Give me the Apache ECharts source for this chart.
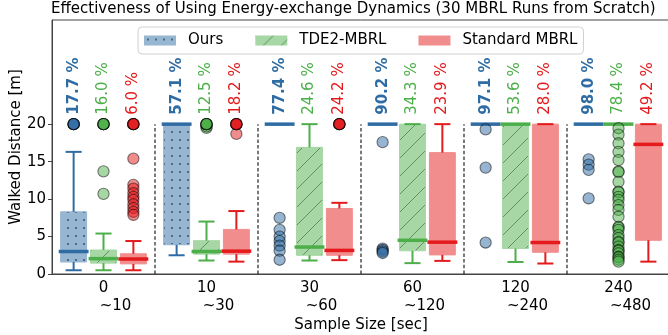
<!DOCTYPE html>
<html><head><meta charset="utf-8">
<script src="https://cdn.jsdelivr.net/npm/echarts@6/dist/echarts.min.js"></script>
<style>html,body{margin:0;padding:0;background:#fff}#c{width:668px;height:335px}</style>
</head><body><div id="c"></div>
<script>
// ---------- data ----------
const groups = ['0', '10', '30', '60', '120', '240'];
const ranges = ['~10', '~30', '~60', '~120', '~240', '~480'];
const seriesNames = ['Ours', 'TDE2-MBRL', 'Standard MBRL'];

// box stats per group: [lowWhisker, Q1, median, Q3, highWhisker]
const oursStats = [
  [0.5, 1.6, 3.0, 8.3, 16.3],
  [2.5, 3.9, 20, 20, 20],
  [20, 20, 20, 20, 20],
  [20, 20, 20, 20, 20],
  [20, 20, 20, 20, 20],
  [20, 20, 20, 20, 20]
];
const tde2Stats = [
  [0.5, 1.45, 2.05, 3.2, 5.4],
  [1.8, 2.65, 3.0, 4.45, 7.0],
  [1.8, 2.5, 3.6, 16.9, 20],
  [1.45, 3.1, 4.5, 20, 20],
  [1.6, 3.4, 20, 20, 20],
  [20, 20, 20, 20, 20]
];
const stdStats = [
  [0.5, 1.35, 2.0, 2.7, 4.4],
  [1.65, 2.65, 3.05, 5.95, 8.4],
  [1.85, 2.5, 3.15, 8.75, 9.5],
  [1.75, 2.55, 4.25, 16.2, 20],
  [1.4, 2.9, 4.2, 20, 20],
  [1.65, 4.5, 17.3, 20, 20]
];

// success rates [%]
const oursPct = [17.7, 57.1, 77.4, 90.2, 97.1, 98.0];
const tde2Pct = [16.0, 12.5, 24.6, 34.3, 53.6, 78.4];
const stdPct  = [6.0, 18.2, 24.2, 23.9, 28.0, 49.2];

// outliers: [groupIndex, value]
const oursOut = [
  [0, 20], [0, 20], [0, 20], [0, 20], [0, 20],
  [2, 7.5], [2, 5.9], [2, 5.0], [2, 4.4], [2, 3.8], [2, 3.1], [2, 1.9],
  [3, 17.6], [3, 3.4], [3, 3.2], [3, 3.0], [3, 2.8],
  [4, 19.3], [4, 14.2], [4, 4.2],
  [5, 15.3], [5, 14.6], [5, 13.9], [5, 10.1]
];
const tde2Out = [
  [0, 13.7], [0, 10.7], [0, 20], [0, 20], [0, 20], [0, 20], [0, 20],
  [1, 19.5], [1, 19.7], [1, 20], [1, 20], [1, 20], [1, 20], [1, 20],
  [5, 19.45], [5, 18.6], [5, 17.45], [5, 16.3], [5, 15.2], [5, 13.7], [5, 13.6],
  [5, 12.3], [5, 11.0], [5, 10.9], [5, 10.3], [5, 9.9], [5, 9.2], [5, 8.55],
  [5, 7.65], [5, 6.3], [5, 6.2], [5, 5.9], [5, 5.2], [5, 4.8], [5, 4.3],
  [5, 4.2], [5, 3.65], [5, 3.2], [5, 3.1], [5, 2.75], [5, 2.3], [5, 2.2],
  [5, 1.9], [5, 1.65]
];
const stdOut = [
  [0, 15.4], [0, 11.9], [0, 11.4], [0, 10.8], [0, 10.3], [0, 9.9], [0, 9.3],
  [0, 8.8], [0, 8.3], [0, 7.9],
  [0, 20], [0, 20], [0, 20], [0, 20], [0, 20],
  [1, 18.7], [1, 20], [1, 20], [1, 20], [1, 20], [1, 20],
  [2, 20], [2, 20], [2, 20], [2, 20], [2, 20]
];
const separators = [0, 1, 2, 3, 4];

// ---------- styling ----------
const FONT = '"DejaVu Sans", sans-serif';
const COL = ['#2f6ca3', '#4daf4a', '#e41a1c'];
const FACE = ['#97b6d1', '#a6d7a5', '#f28d8e'];
const OFFSETS = [-0.29, 0, 0.29];

function rgba(hex, a) {
  const n = parseInt(hex.slice(1), 16);
  return `rgba(${(n >> 16) & 255},${(n >> 8) & 255},${n & 255},${a})`;
}
function makePattern(kind, face) {
  const c = document.createElement('canvas');
  const s = kind === 'dots' ? 8 : 18;
  c.width = s; c.height = s;
  const g = c.getContext('2d');
  g.fillStyle = face; g.fillRect(0, 0, s, s);
  if (kind === 'dots') {
    g.fillStyle = '#2d4a66';
    g.beginPath(); g.arc(4, 4, 0.95, 0, Math.PI * 2); g.fill();
  } else if (kind === 'lines') {
    g.strokeStyle = 'rgba(60,90,60,0.75)'; g.lineWidth = 0.8;
    g.beginPath();
    g.moveTo(-1, s + 1); g.lineTo(s + 1, -1);
    g.moveTo(-1, 1); g.lineTo(1, -1);
    g.moveTo(s - 1, s + 1); g.lineTo(s + 1, s - 1);
    g.stroke();
  }
  return { image: c, repeat: 'repeat' };
}
const PAT = [makePattern('dots', FACE[0]), makePattern('lines', FACE[1]), FACE[2]];

function boxRender(k) {
  return function (params, api) {
    const idx = api.value(0);
    const bw = api.size([1, 0])[0];
    const cx = api.coord([idx, 0])[0] + OFFSETS[k] * bw;
    const Y = v => api.coord([idx, v])[1];
    const low = api.value(1), q1 = api.value(2), med = api.value(3), q3 = api.value(4), high = api.value(5);
    const pct = api.value(6);
    const hw = bw * 0.126, cap = bw * 0.078, mw = bw * 0.145;
    const ch = [];
    if (q3 > q1) {
      ch.push({ type: 'rect', shape: { x: cx - hw, y: Y(q3), width: 2 * hw, height: Y(q1) - Y(q3) },
        style: { fill: PAT[k], stroke: FACE[k], lineWidth: 1 } });
    }
    const ls = { stroke: COL[k], lineWidth: 2 };
    if (high > q3) ch.push({ type: 'line', shape: { x1: cx, y1: Y(q3), x2: cx, y2: Y(high) }, style: ls });
    if (low < q1) ch.push({ type: 'line', shape: { x1: cx, y1: Y(q1), x2: cx, y2: Y(low) }, style: ls });
    ch.push({ type: 'line', shape: { x1: cx - cap, y1: Y(high), x2: cx + cap, y2: Y(high) }, style: ls });
    ch.push({ type: 'line', shape: { x1: cx - cap, y1: Y(low), x2: cx + cap, y2: Y(low) }, style: ls });
    ch.push({ type: 'line', shape: { x1: cx - mw, y1: Y(med), x2: cx + mw, y2: Y(med) },
      style: { stroke: COL[k], lineWidth: 3.5 } });
    ch.push({ type: 'text', x: cx, y: Y(21.25), rotation: Math.PI / 2,
      style: { text: pct.toFixed(1) + ' %', fill: COL[k], fontSize: 15, fontFamily: FONT,
        fontWeight: k === 0 ? 'bold' : 'normal', align: 'left', verticalAlign: 'middle' } });
    return { type: 'group', children: ch };
  };
}
function outRender(k) {
  return function (params, api) {
    const idx = api.value(0);
    const bw = api.size([1, 0])[0];
    const p = api.coord([idx, api.value(1)]);
    return { type: 'circle', shape: { cx: p[0] + OFFSETS[k] * bw, cy: p[1], r: 5.6 },
      style: { fill: rgba(COL[k], 0.5), stroke: 'rgba(0,0,0,0.5)', lineWidth: 1.1 } };
  };
}
function sepRender(params, api) {
  const idx = api.value(0);
  const bw = api.size([1, 0])[0];
  const x = api.coord([idx, 0])[0] + bw / 2;
  return { type: 'line', shape: { x1: x, y1: api.coord([idx, 0])[1], x2: x, y2: api.coord([idx, 20])[1] },
    style: { stroke: '#222', lineWidth: 1.2, lineDash: [3.5, 2.2] } };
}

const statsAll = [oursStats, tde2Stats, stdStats];
const pctAll = [oursPct, tde2Pct, stdPct];
const outAll = [oursOut, tde2Out, stdOut];

const series = [{
  type: 'custom', name: 'sep', renderItem: sepRender, data: separators.map(i => [i, 0]),
  encode: { x: 0, y: 1 }, silent: true, z: 1
}];
for (let k = 0; k < 3; k++) {
  series.push({
    type: 'custom', name: seriesNames[k], renderItem: boxRender(k),
    itemStyle: { color: PAT[k] },
    data: statsAll[k].map((s, i) => [i, ...s, pctAll[k][i]]),
    encode: { x: 0, y: [1, 2, 3, 4, 5] }, z: 2
  });
}
for (let k = 0; k < 3; k++) {
  series.push({
    type: 'custom', name: seriesNames[k] + ' outliers', renderItem: outRender(k),
    data: outAll[k], encode: { x: 0, y: 1 }, z: 3
  });
}

const chart = echarts.init(document.getElementById('c'), null, { renderer: 'canvas' });
chart.setOption({
  animation: false,
  title: {
    text: 'Effectiveness of Using Energy-exchange Dynamics (30 MBRL Runs from Scratch)',
    left: 51, top: 2, padding: 0,
    textStyle: { fontSize: 15, fontWeight: 'normal', fontFamily: FONT, color: '#000' }
  },
  legend: {
    data: seriesNames.map((n, k) => ({ name: n, itemStyle: { color: PAT[k] } })),
    left: 138, top: 27, icon: 'rect', itemWidth: 32, itemHeight: 10, itemGap: 32,
    backgroundColor: 'rgba(255,255,255,0.85)', borderColor: '#d0d0d0', borderWidth: 1, borderRadius: 4,
    padding: [6, 6, 6, 6],
    textStyle: { fontSize: 15, fontFamily: FONT, color: '#000', padding: [0, 0, 0, 7] }
  },
  grid: { left: 52, right: -2, top: 20, bottom: 61, show: true, borderColor: '#444', borderWidth: 1,
    outerBoundsMode: 'none' },
  xAxis: {
    type: 'category', data: groups,
    axisLine: { lineStyle: { color: '#444', width: 1 } },
    axisTick: { alignWithLabel: true, length: 4, lineStyle: { color: '#444' } },
    axisLabel: {
      margin: 5,
      formatter: (v, i) => `{a|${v}}\n{b|${ranges[i]}}`,
      rich: {
        a: { fontSize: 15, fontFamily: FONT, color: '#000', lineHeight: 18 },
        b: { fontSize: 15, fontFamily: FONT, color: '#000', lineHeight: 18, padding: [0, 0, 0, 24] }
      }
    },
    name: 'Sample Size [sec]', nameLocation: 'middle', nameGap: 44, nameMoveOverlap: false,
    nameTextStyle: { fontSize: 15, fontFamily: FONT, color: '#000' }
  },
  yAxis: {
    type: 'value', min: 0, max: 33.9, interval: 5,
    splitLine: { show: false },
    axisLine: { show: true, lineStyle: { color: '#444', width: 1 } },
    axisTick: { show: true, length: 4, customValues: [0, 5, 10, 15, 20], lineStyle: { color: '#444' } },
    axisLabel: { customValues: [0, 5, 10, 15, 20], fontSize: 15, fontFamily: FONT, color: '#000', margin: 6 },
    name: 'Walked Distance [m]', nameLocation: 'middle', nameGap: 28, nameMoveOverlap: false,
    nameTextStyle: { fontSize: 15, fontFamily: FONT, color: '#000' }
  },
  series: series
});
</script></body></html>
